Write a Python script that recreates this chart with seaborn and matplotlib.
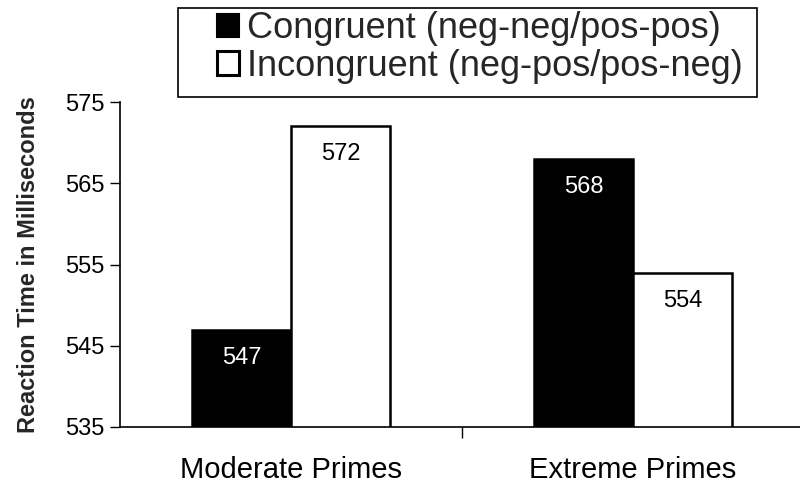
import matplotlib
matplotlib.use('Agg')
import matplotlib.pyplot as plt
import matplotlib.patches as mpatches
import numpy as np
import pandas as pd
import seaborn as sb

primeTypes = ['Moderate Primes', 'Extreme Primes']
conditions = ['Congruent (neg-neg/pos-pos)', 'Incongruent (neg-pos/pos-neg)']
congruentRT = [547, 568]
incongruentRT = [572, 554]
yTicks = [535, 545, 555, 565, 575]

sb.set_theme(style='ticks')
plt.rcParams['font.family'] = ['Liberation Sans', 'DejaVu Sans']

df = pd.DataFrame({
    'prime': primeTypes * 2,
    'condition': [conditions[0]] * 2 + [conditions[1]] * 2,
    'rt': congruentRT + incongruentRT,
})

fig = plt.figure(figsize=(8, 4.86), dpi=100)
ax = fig.add_axes([0.15, 0.1214, 0.855, 0.6687])

sb.barplot(data=df, x='prime', y='rt', hue='condition', order=primeTypes, hue_order=conditions,
           palette=['black', 'white'], edgecolor='black', linewidth=1.8, width=0.58, gap=0,
           ax=ax, legend=False)

ax.set_ylim(535, 575)
ax.set_xlim(-0.5, 1.5)
ax.set_yticks(yTicks)
ax.tick_params(axis='y', labelsize=17, length=7, width=1, direction='out', pad=4, colors='black')
ax.set_xticks([0, 1], primeTypes)
ax.tick_params(axis='x', which='major', length=0, labelsize=21, pad=21, colors='black')
ax.set_xticks([0.5], minor=True)
ax.tick_params(axis='x', which='minor', length=8, width=1, direction='out', colors='black')
ax.set_xlabel('')
ax.set_ylabel('Reaction Time in Milliseconds', fontsize=17, fontweight='bold', labelpad=18)
for side in ['top', 'right']:
    ax.spines[side].set_visible(False)
for side in ['left', 'bottom']:
    ax.spines[side].set_color('black')
    ax.spines[side].set_linewidth(1.2)

# value labels inside the top of each bar
for cont, txtColor in zip(ax.containers, ['white', 'black']):
    for bar in cont:
        h = bar.get_height()
        ax.annotate(str(int(round(h))), (bar.get_x() + bar.get_width() / 2, h),
                    xytext=(0, -28), textcoords='offset pixels', ha='center', va='center',
                    fontsize=17, color=txtColor)

# legend box drawn as a figure rectangle, entries placed inside without a frame
fig.patches.append(mpatches.Rectangle((178 / 800, 1 - 97 / 486), 579 / 800, 89 / 486,
                                      transform=fig.transFigure, fill=False,
                                      edgecolor='black', linewidth=1.2))
handles = [mpatches.Patch(facecolor='black', edgecolor='black', linewidth=1.5),
           mpatches.Patch(facecolor='white', edgecolor='black', linewidth=2.2)]
leg = fig.legend(handles, conditions, loc='upper left', bbox_to_anchor=(217 / 800, 1 - 11 / 486),
                 fontsize=26, frameon=False, handlelength=0.62, handleheight=0.62,
                 handletextpad=0.22, labelspacing=0.08, borderpad=0, borderaxespad=0)

fig.savefig('out.png', dpi=100)
